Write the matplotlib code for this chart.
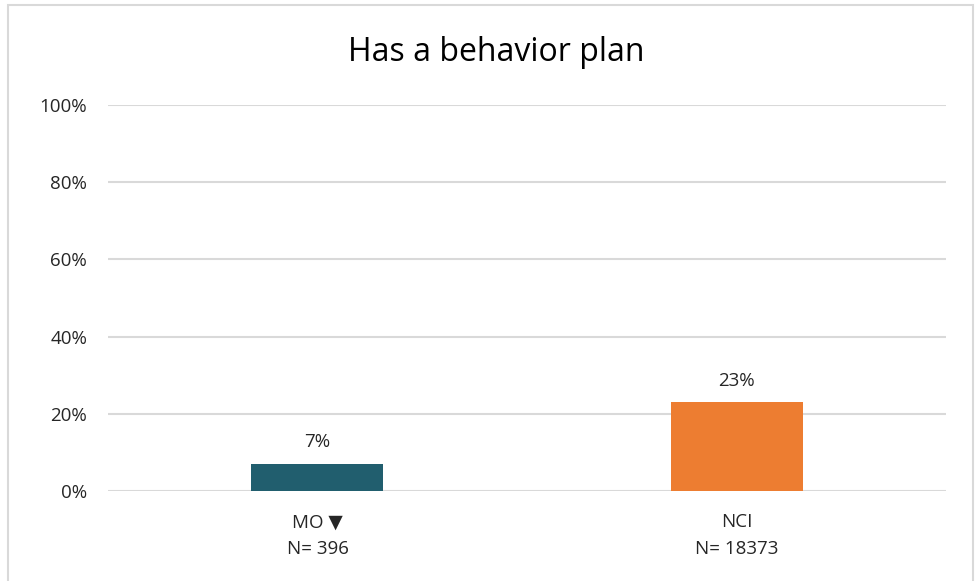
import matplotlib.pyplot as plt
from matplotlib.patches import Rectangle
from matplotlib.ticker import FuncFormatter

plt.rcParams['font.family'] = ['Open Sans', 'DejaVu Sans']

# chart data
categories = ["MO \u25BC\nN= 396", "NCI\nN= 18373"]
values = [7, 23]
bar_colors = ["#215E6E", "#ED7D31"]
y_ticks = [0, 20, 40, 60, 80, 100]

fig = plt.figure(figsize=(9.78, 5.81), dpi=100)
ax = fig.add_axes([0.1104, 0.1549, 0.8569, 0.6644])

x = range(len(categories))
bars = ax.bar(x, values, width=0.315, color=bar_colors, zorder=3)

for rect, v in zip(bars, values):
    ax.annotate(f"{v}%", (rect.get_x() + rect.get_width() / 2, v),
                xytext=(0, 9), textcoords="offset points",
                ha="center", va="bottom", fontsize=13.5, color="#262626")

ax.set_xlim(-0.5, 1.5)
ax.set_ylim(0, 100)
ax.set_yticks(y_ticks)
ax.yaxis.set_major_formatter(FuncFormatter(lambda v, p: f"{v:.0f}%"))
ax.set_xticks(list(x))
ax.set_xticklabels(categories, fontsize=13.5, color="#262626", linespacing=1.65)
ax.tick_params(axis="y", labelsize=13.5, labelcolor="#262626", length=0, pad=15)
ax.tick_params(axis="x", length=0, pad=16)
ax.grid(axis="y", color="#D9D9D9", linewidth=1.5, zorder=0)
for s in ax.spines.values():
    s.set_visible(False)

fig.suptitle("Has a behavior plan", x=0.507, y=0.910, va="center",
             fontsize=23, color="#000000")

# outer chart border
fig.patches.append(Rectangle((8 / 978, -0.05), 965 / 978, 1 - 5 / 581 + 0.05,
                             transform=fig.transFigure, fill=False,
                             edgecolor="#D9D9D9", linewidth=1.5))

fig.savefig("out.png", dpi=100)
